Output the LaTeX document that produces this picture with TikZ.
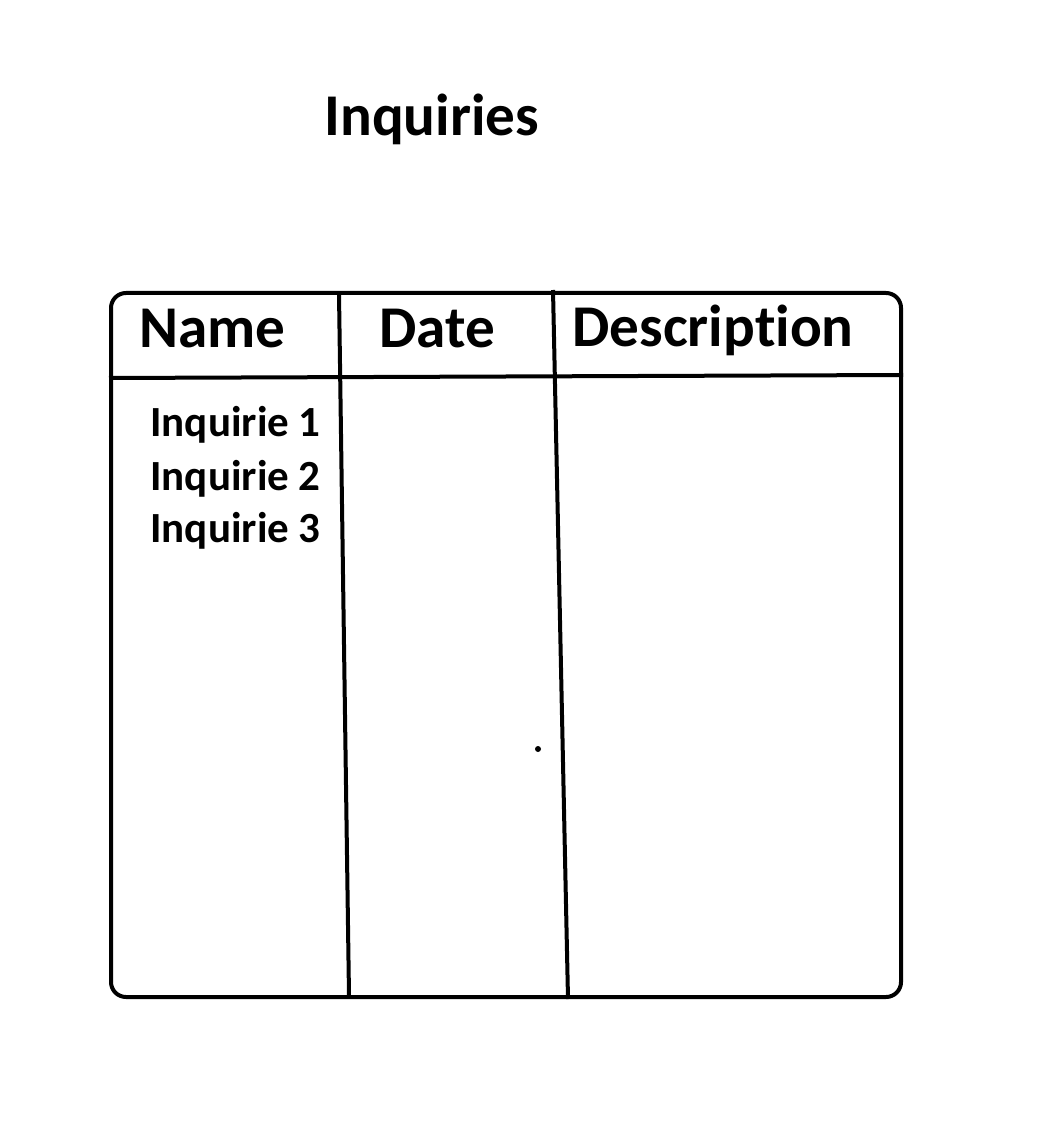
\documentclass[tikz,border=0pt]{standalone}
\usepackage{fontspec}
\setmainfont{Carlito}[Ligatures=NoCommon]
\usetikzlibrary{positioning}

\begin{document}
\begin{tikzpicture}[x=0.5pt,y=-0.5pt,
  heading/.style={font=\bfseries\fontsize{29.6}{35}\selectfont, inner sep=0pt, anchor=base west},
  entry/.style={font=\bfseries\fontsize{21.5}{26}\selectfont, inner sep=0pt, anchor=base west},
  rule/.style={line width=2pt}]
 \useasboundingbox (0,0) rectangle (1058,1138);
 \node[heading] (title) at (324,136) {Inquiries};
 \node[heading] (name) at (139,348) {Name};
 \node[heading] (date) at (379,348) {Date};
 \node[heading] (desc) at (572,347) {Description};
 \foreach \i/\y in {1/437,2/490,3/542}
  \node[entry] (inq-\i) at (150,\y) {Inquirie \i};
 \coordinate (tl) at (111,293);
 \coordinate (br) at (901,997);
 \coordinate (head-w) at (109,378);
 \coordinate (head-e) at (903,375);
 \coordinate (col1-n) at (339,294);
 \coordinate (col1-s) at (349,996);
 \coordinate (col2-n) at (553,290);
 \coordinate (col2-s) at (568,999);
 \draw[rule, rounded corners=7.5pt] (tl) rectangle (br);
 \draw[rule] (head-w) -- (head-e);
 \draw[rule] (col1-n) -- (col1-s);
 \draw[rule] (col2-n) -- (col2-s);
 \fill (538,749) circle (1.5pt);
\end{tikzpicture}
\end{document}
